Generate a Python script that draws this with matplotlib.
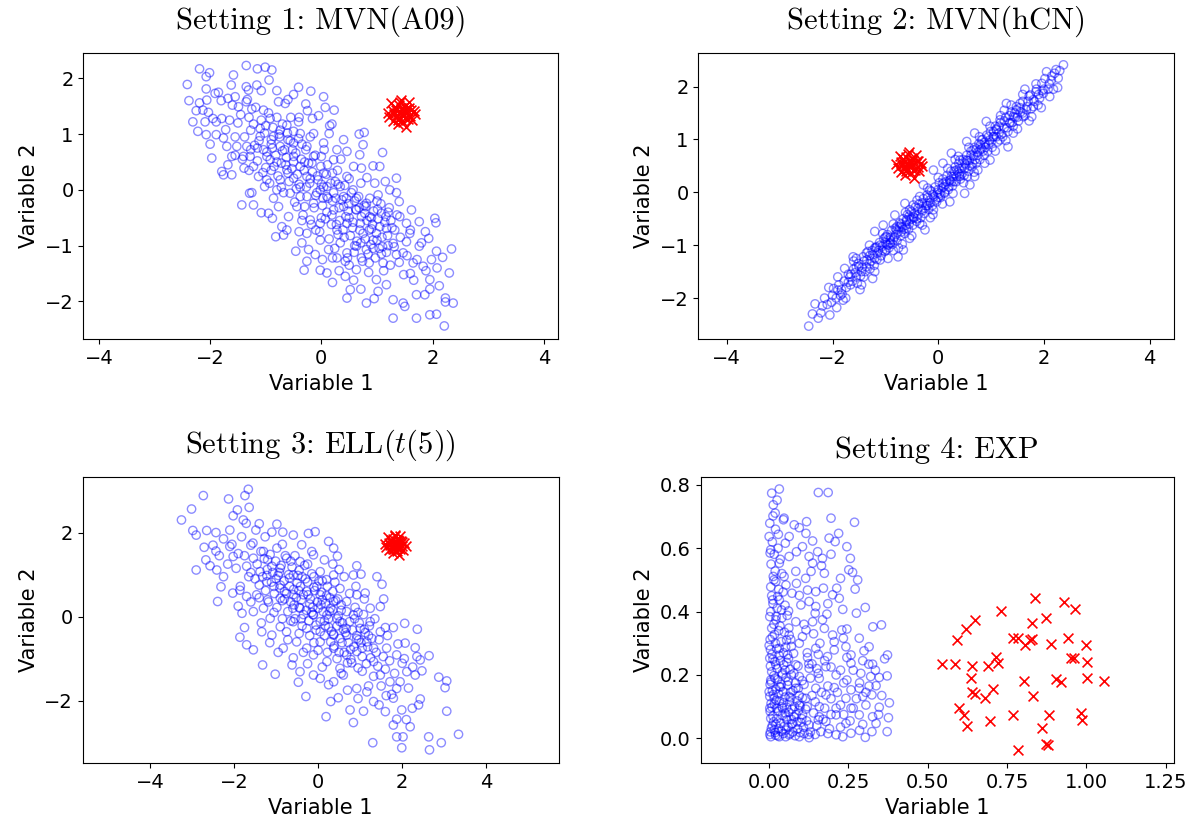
import numpy as np
import matplotlib
matplotlib.use("Agg")
from matplotlib import pyplot as plt

plt.rcParams['mathtext.fontset'] = 'cm'

# ---- Setting 1: MVN(A09) ----
s1_inliers = np.array([
    (-2.19, 2.17), (-2.41, 1.89), (-2.38, 1.60), (-2.31, 1.22), (-2.22, 1.05), (-2.07, 0.99),
    (-2.01, 2.10), (-2.07, 2.03), (-2.07, 1.81), (-1.91, 1.73), (-2.06, 1.61), (-2.19, 1.56),
    (-2.13, 1.43), (-2.03, 1.39), (-2.09, 1.22), (-1.89, 1.22), (-1.89, 0.99), (-1.97, 0.57),
    (-1.79, 0.33), (-1.76, 0.27), (-1.61, 0.27), (-1.58, 2.06), (-1.62, 1.88), (-1.68, 1.64),
    (-1.55, 1.67), (-1.35, 2.23), (-1.15, 2.17), (-1.01, 2.20), (-0.89, 2.15), (-0.94, 1.97),
    (-1.16, 1.88), (-1.08, 1.78), (-1.31, 1.79), (-1.35, 1.58), (-1.49, 1.49), (-1.65, 1.25),
    (-1.79, 1.28), (-1.76, 0.93), (-1.70, 0.78), (-1.61, 0.60), (-1.52, 0.78), (-1.40, 0.60),
    (-1.39, 0.39), (-1.43, -0.27), (-1.22, -0.27), (-1.29, -0.06), (-1.08, -0.41), (-0.88, -0.51),
    (-0.82, -0.84), (-0.68, -0.81), (-0.71, -0.66), (-0.46, -1.10), (-0.31, -1.44), (-0.26, -1.28),
    (-0.02, -1.44), (0.10, -1.49), (0.20, -1.66), (0.43, -1.28), (0.43, -1.55), (0.46, -1.94),
    (0.52, -1.79), (0.71, -1.78), (0.81, -2.03), (0.99, -1.61), (1.02, -1.82), (1.17, -1.70),
    (1.29, -2.30), (1.29, -1.97), (1.47, -2.03), (1.50, -2.09), (1.71, -2.30), (1.71, -1.88),
    (1.86, -1.88), (1.95, -2.24), (2.07, -2.23), (2.21, -2.44), (2.23, -1.94), (2.23, -2.01),
    (2.37, -2.03), (2.30, -1.49), (2.34, -1.06), (2.18, -1.21), (2.07, -1.10), (2.08, -1.40),
    (1.95, -1.61), (1.95, -1.78), (1.83, -1.37), (1.93, -0.87), (1.87, -0.75), (2.04, -0.51),
    (2.06, -0.59), (1.76, -0.57), (1.62, -0.36), (1.76, -1.01), (1.65, -1.31), (1.53, -0.93),
    (1.47, -1.13), (1.35, 0.21), (1.35, -0.05), (1.40, -0.21), (1.23, 0.00), (1.10, 0.67),
    (1.05, 0.42), (0.93, 0.43), (0.77, 1.03), (0.68, 1.00), (0.75, 0.81), (0.23, 1.43),
    (0.07, 1.48), (0.04, 1.67), (-0.19, 1.77), (-0.41, 1.84), (-0.50, 1.71), (-0.28, 1.54),
    (-0.05, 1.33), (-0.16, 1.28), (0.19, 1.18), (0.14, 1.01), (0.40, 0.90), (0.46, 0.69),
    (0.69, 0.63), (0.72, 0.39), (0.71, 0.12), (0.96, 0.12), (1.02, -0.09), (1.08, -0.42),
    (1.17, -0.69), (1.32, -0.72), (1.29, -0.96), (1.35, -1.16), (1.11, -1.31), (0.86, -1.31),
    (0.72, -1.22), (0.63, -1.43), (0.46, -1.13), (0.28, -1.22), (0.13, -1.07), (-0.11, -1.16),
    (-0.23, -1.07), (-0.40, -0.75), (-0.59, -0.48), (-0.77, -0.30), (-0.86, -0.15), (-1.02, 0.06),
    (-1.13, 0.24), (-1.22, 0.42), (-1.28, 0.60), (-1.34, 0.78), (-1.27, 1.07), (-1.10, 0.96),
    (-1.04, 1.43), (-0.92, 1.28), (-0.77, 1.58), (-0.65, 1.55), (-0.62, 1.16), (-0.41, 1.22),
    (-0.74, 0.78), (-0.92, 0.54), (-1.04, 0.72), (-0.50, 0.84), (-0.26, 0.78), (-0.14, 0.60),
    (-0.38, 0.42), (-0.62, 0.36), (-0.74, 0.18), (-0.50, 0.21), (-0.26, 0.24), (0.04, 0.30),
    (0.22, 0.54), (-0.02, 0.00), (0.10, -0.12), (-0.14, -0.24), (-0.38, -0.12), (-0.56, -0.06),
    (0.22, -0.36), (0.40, -0.12), (0.57, 0.00), (0.46, 0.24), (0.63, -0.36), (0.81, -0.24),
    (0.87, -0.48), (0.46, -0.60), (0.28, -0.72), (-0.02, -0.60), (-0.20, -0.54), (-0.26, -0.78),
    (-0.02, -0.90), (0.75, -0.78), (0.93, -0.90), (1.05, -0.66), (0.63, -1.01), (0.81, -1.07),
    (1.53, -0.60), (1.41, -0.48), (1.59, -0.78), (-0.86, 0.96), (-0.98, 0.60), (-0.74, 1.07),
    (-0.38, 1.01), (-0.14, 1.01), (0.04, 0.84), (0.28, 0.72), (-0.50, 0.60), (-0.80, 0.00),
    (-0.98, 0.18), (-0.44, -0.30), (0.10, 0.06), (0.34, 0.06),
    (-0.90, 0.90), (-0.70, 0.70), (-0.50, 0.50), (-0.30, 0.50), (-0.60, 0.90), (-0.20, 0.20),
    (0.00, 0.10), (0.20, -0.20), (0.40, -0.30), (0.50, -0.50), (0.70, -0.60), (0.90, -0.70),
    (0.30, 0.10), (0.10, -0.40), (-0.10, -0.10), (-0.40, 0.10), (-0.80, 0.50), (-1.10, 1.10),
    (-1.30, 1.30), (-1.50, 1.20), (-0.60, 0.30), (0.20, 0.30), (0.60, -0.20), (0.80, -0.30),
    (1.00, -0.90), (1.20, -1.00), (1.20, -0.40), (0.60, -1.00), (0.30, -0.80), (0.00, -0.50),
    (-0.30, -0.30), (-1.00, 0.40), (-1.20, 0.80), (-0.40, 1.30), (0.00, 0.60), (0.50, 0.20),
    (1.00, -0.20), (1.40, -1.30), (1.60, -1.50), (-1.80, 1.60),
    (-1.45, 1.35), (-1.38, 0.95), (-1.33, 1.62), (-1.27, 0.72), (-1.22, 1.18), (-1.18, 1.48),
    (-1.15, 0.52), (-1.12, 0.88), (-1.08, 1.25), (-1.05, 0.31), (-1.02, 1.02), (-0.98, 0.68),
    (-0.95, 1.38), (-0.93, 0.12), (-0.90, 0.82), (-0.87, 1.12), (-0.85, 0.42), (-0.82, 0.62),
    (-0.80, 1.30), (-0.78, 0.25), (-0.75, 0.95), (-0.72, 0.48), (-0.70, 1.18), (-0.68, -0.05),
    (-0.66, 0.72), (-0.63, 0.58), (-0.61, 1.02), (-0.58, 0.15), (-0.56, 0.88), (-0.53, 0.38),
    (-0.50, 1.05), (-0.48, -0.22), (-0.46, 0.66), (-0.43, 0.28), (-0.41, 0.92), (-0.38, 0.05),
    (-0.36, 0.55), (-0.33, -0.45), (-0.31, 0.35), (-0.28, 0.72), (-0.26, -0.12), (-0.23, 0.48),
    (-0.21, 0.12), (-0.18, -0.62), (-0.16, 0.32), (-0.13, -0.32), (-0.11, 0.62), (-0.08, -0.05),
    (-0.06, 0.18), (-0.03, -0.75), (-0.01, 0.42), (0.02, -0.28), (0.04, 0.05), (0.07, -0.52),
    (0.09, 0.28), (0.12, -0.15), (0.14, -0.88), (0.17, 0.12), (0.19, -0.45), (0.22, -0.05),
    (0.24, -1.05), (0.27, -0.62), (0.29, 0.35), (0.32, -0.32), (0.34, -0.95), (0.37, -0.18),
    (0.39, -0.72), (0.42, 0.08), (0.44, -0.48), (0.47, -1.22), (0.49, -0.25), (0.52, -0.82),
    (0.54, -0.05), (0.57, -0.58), (0.59, -1.12), (0.62, -0.35), (0.64, -0.92), (0.67, -0.12),
    (0.69, -0.72), (0.72, -0.48), (0.74, -1.28), (0.77, -0.28), (0.79, -0.88), (0.82, -0.55),
    (0.84, -1.15), (0.87, -0.15), (0.89, -0.98), (0.92, -0.62), (0.94, -0.38), (0.97, -1.22),
    (0.99, -0.78), (1.02, -0.52), (1.04, -1.05), (1.07, -0.25), (1.09, -0.85), (1.12, -1.45),
    (1.14, -0.58), (1.17, -1.12), (1.19, -0.82), (1.22, -0.32), (1.24, -1.35), (1.27, -0.68),
    (1.31, -1.02), (1.36, -0.45), (1.42, -0.85), (1.48, -1.52), (1.54, -1.18), (1.60, -0.72),
    (1.66, -1.62), (1.72, -1.25), (1.80, -0.95), (1.88, -1.45), (1.98, -1.25), (2.12, -1.72),
    (-1.60, 1.52), (-1.72, 1.08), (-1.85, 1.75), (-1.95, 1.28), (-2.25, 1.42), (-1.55, 0.95),
    (-1.42, 0.55), (-1.68, 0.45), (-2.00, 0.82), (-1.25, -0.05), (-0.95, -0.42), (-0.62, -0.72),
    (-0.35, -0.95), (0.02, -1.25), (0.32, -1.45), (0.58, -1.62), (0.95, -1.95), (0.15, 1.15),
    (0.35, 0.55), (0.58, 0.42), (0.82, 0.22), (1.15, 0.15), (-0.25, 1.42), (-0.60, 1.62),
    (-1.00, 1.15), (-0.88, 0.75), (-0.76, 1.00), (-0.64, 0.45), (-0.52, 0.72), (-0.45, 0.02),
    (-0.35, 0.82), (-0.27, 0.05), (-0.17, 0.48), (-0.07, 0.25), (0.03, -0.15), (0.11, 0.45),
    (0.18, -0.62), (0.26, -0.15), (0.33, -0.55), (0.41, -0.85), (0.48, -0.38), (0.56, -0.68),
    (0.63, -0.15), (0.71, -0.95), (0.78, -0.42), (0.86, -0.72), (0.93, -1.05), (1.01, -0.35),
    (1.08, -1.15), (1.16, -0.48), (-1.15, 0.75), (-1.25, 1.45), (-0.90, 0.35), (-0.72, 0.05),
    (-0.55, 1.30), (-0.20, 0.95), (0.05, 0.72), (0.25, 0.15), (0.45, -0.15), (0.68, -0.32),
    (0.90, -0.50), (1.25, -0.55), (-0.35, -0.55), (-0.10, -0.72), (0.20, -1.22), (0.50, -1.35),
    (0.85, -1.48), (1.10, -1.02), (-1.30, 0.35), (-1.55, 0.62), (-1.35, 1.85), (-0.80, 1.78),
])
s1_outliers_x = [1.43, 1.52, 1.35, 1.60, 1.28, 1.47, 1.39, 1.55, 1.31, 1.44, 1.66, 1.22,
                 1.50, 1.37, 1.58, 1.41, 1.26, 1.63, 1.46, 1.34, 1.53, 1.40, 1.29, 1.57,
                 1.48, 1.36, 1.45, 1.19, 1.69, 1.42, 1.51, 1.33, 1.61, 1.38, 1.49]
s1_outliers_y = [1.37, 1.45, 1.30, 1.33, 1.42, 1.22, 1.52, 1.27, 1.36, 1.61, 1.41, 1.31,
                 1.50, 1.18, 1.47, 1.39, 1.55, 1.25, 1.33, 1.44, 1.12, 1.28, 1.24, 1.57,
                 1.40, 1.35, 1.46, 1.38, 1.36, 1.58, 1.29, 1.49, 1.43, 1.26, 1.34]

# ---- Setting 2: MVN(hCN) ----
s2_inliers = np.array([
    (-2.45, -2.53), (-2.33, -2.11), (-2.19, -2.15), (-2.27, -2.38), (-2.07, -1.80), (-1.92, -2.18),
    (-1.80, -2.04), (-1.83, -1.84), (-1.77, -1.44), (-1.61, -1.22), (-1.48, -1.84), (-1.41, -1.60),
    (-1.24, -1.63), (-1.20, -0.74), (-1.04, -0.62), (-0.79, -0.71), (-0.76, -1.22), (-0.98, -1.09),
    (-0.66, -1.09), (-0.82, -0.43), (-0.63, -0.21), (-0.47, -0.24), (-0.25, -0.71), (-0.54, -0.87),
    (-0.35, -0.59), (-0.28, 0.14), (-0.09, 0.42), (0.09, 0.55), (0.25, 0.74), (0.22, -0.18),
    (0.50, -0.02), (0.60, 0.14), (0.69, 0.30), (0.54, 0.96), (0.69, 1.12), (0.91, 1.34),
    (0.98, 0.61), (1.32, 0.86), (1.10, 1.18), (1.29, 1.68), (1.55, 1.68), (1.64, 1.95),
    (1.74, 1.84), (1.80, 1.62), (1.77, 1.43), (1.42, 1.12), (1.61, 1.43), (1.96, 2.06),
    (2.05, 2.28), (2.23, 2.32), (2.37, 2.41), (2.27, 2.16), (2.26, 1.98), (2.11, 1.81),
    (1.99, 1.87), (1.89, 1.65), (1.48, 1.56), (1.17, 1.37), (1.17, 0.99), (0.82, 0.99),
    (0.66, 0.80), (0.41, 0.61), (0.41, 0.30), (0.22, 0.23), (0.03, -0.02), (-0.09, -0.33),
    (-0.22, -0.21), (-0.47, -0.46), (-0.60, -0.52), (-0.98, -0.84), (-1.17, -1.03), (-1.36, -1.15),
    (-1.55, -1.41), (-1.67, -1.60), (-1.36, -1.41), (-1.10, -1.28), (-0.91, -0.97), (-0.73, -0.65),
    (-0.54, -0.33), (-0.35, -0.08), (-0.16, 0.04), (0.09, 0.17), (0.35, 0.42), (0.54, 0.61),
    (0.79, 0.80), (1.04, 1.05), (1.36, 1.31), (1.42, 1.43), (1.67, 1.56),
    (-2.00, -1.95), (-1.90, -1.85), (-1.85, -1.95), (-1.70, -1.70), (-1.65, -1.55), (-1.55, -1.60),
    (-1.50, -1.40), (-1.45, -1.50), (-1.40, -1.30), (-1.30, -1.35), (-1.30, -1.20), (-1.25, -1.10),
    (-1.20, -1.25), (-1.15, -1.15), (-1.10, -1.00), (-1.05, -1.10), (-1.00, -0.95), (-0.95, -1.00),
    (-0.90, -0.85), (-0.85, -0.90), (-0.80, -0.80), (-0.78, -0.65), (-0.70, -0.75), (-0.70, -0.60),
    (-0.65, -0.70), (-0.60, -0.55), (-0.55, -0.60), (-0.50, -0.50), (-0.45, -0.40), (-0.40, -0.50),
    (-0.38, -0.30), (-0.30, -0.35), (-0.30, -0.20), (-0.25, -0.30), (-0.20, -0.10), (-0.15, -0.20),
    (-0.10, -0.05), (-0.05, -0.15), (0.00, 0.05), (0.05, -0.05), (0.10, 0.10), (0.12, 0.00),
    (0.15, 0.20), (0.20, 0.10), (0.25, 0.30), (0.30, 0.20), (0.30, 0.40), (0.35, 0.30),
    (0.40, 0.45), (0.45, 0.35), (0.50, 0.55), (0.50, 0.45), (0.55, 0.60), (0.60, 0.50),
    (0.62, 0.70), (0.70, 0.62), (0.72, 0.82), (0.75, 0.70), (0.80, 0.90), (0.85, 0.78),
    (0.88, 0.95), (0.95, 0.90), (0.95, 1.05), (1.00, 0.95), (1.05, 1.15), (1.10, 1.05),
    (1.15, 1.25), (1.20, 1.10), (1.25, 1.35), (1.30, 1.22), (1.35, 1.45), (1.40, 1.32),
    (1.45, 1.50), (1.50, 1.42), (1.55, 1.60), (1.60, 1.50), (1.70, 1.72), (1.80, 1.75),
    (1.85, 1.90), (1.90, 1.85), (2.00, 1.95), (2.10, 2.05), (2.15, 2.20), (-0.55, -0.45),
    (-0.60, -0.68), (-0.90, -0.95), (-1.00, -0.85), (-1.20, -1.05), (0.65, 0.55), (0.25, 0.20),
    (0.00, -0.10), (-0.20, -0.25), (0.40, 0.35), (0.90, 0.85), (1.10, 1.20),
    (-2.38, -2.30), (-2.22, -2.28), (-2.15, -2.00), (-2.10, -2.12), (-2.02, -2.08), (-1.98, -1.82),
    (-1.93, -2.00), (-1.88, -1.75), (-1.82, -1.92), (-1.78, -1.68), (-1.74, -1.80), (-1.70, -1.55),
    (-1.66, -1.75), (-1.62, -1.68), (-1.60, -1.45), (-1.57, -1.52), (-1.53, -1.72), (-1.51, -1.35),
    (-1.47, -1.58), (-1.44, -1.42), (-1.42, -1.22), (-1.38, -1.50), (-1.35, -1.28), (-1.33, -1.12),
    (-1.29, -1.45), (-1.27, -1.30), (-1.24, -1.18), (-1.21, -1.38), (-1.18, -1.05), (-1.16, -1.27),
    (-1.13, -1.10), (-1.11, -0.95), (-1.08, -1.20), (-1.06, -1.02), (-1.03, -0.88), (-1.01, -1.12),
    (-0.98, -0.98), (-0.96, -0.80), (-0.93, -1.05), (-0.91, -0.90), (-0.88, -0.72), (-0.86, -0.98),
    (-0.83, -0.85), (-0.81, -0.68), (-0.78, -0.92), (-0.76, -0.75), (-0.73, -0.58), (-0.71, -0.82),
    (-0.68, -0.66), (-0.66, -0.50), (-0.63, -0.78), (-0.61, -0.62), (-0.58, -0.42), (-0.56, -0.70),
    (-0.53, -0.52), (-0.51, -0.36), (-0.48, -0.62), (-0.46, -0.48), (-0.43, -0.28), (-0.41, -0.55),
    (-0.38, -0.42), (-0.36, -0.22), (-0.33, -0.48), (-0.31, -0.32), (-0.28, -0.12), (-0.26, -0.40),
    (-0.23, -0.25), (-0.21, -0.05), (-0.18, -0.32), (-0.16, -0.15), (-0.13, 0.02), (-0.11, -0.25),
    (-0.08, -0.08), (-0.06, 0.10), (-0.03, -0.18), (-0.01, 0.00), (0.02, 0.18), (0.04, -0.10),
    (0.07, 0.08), (0.09, 0.25), (0.12, -0.02), (0.14, 0.15), (0.17, 0.32), (0.19, 0.05),
    (0.22, 0.22), (0.24, 0.40), (0.27, 0.12), (0.29, 0.30), (0.32, 0.48), (0.34, 0.20),
    (0.37, 0.38), (0.39, 0.55), (0.42, 0.25), (0.44, 0.45), (0.47, 0.62), (0.49, 0.32),
    (0.52, 0.52), (0.54, 0.70), (0.57, 0.40), (0.59, 0.60), (0.62, 0.78), (0.64, 0.48),
    (0.67, 0.68), (0.69, 0.85), (0.72, 0.55), (0.74, 0.75), (0.77, 0.92), (0.79, 0.62),
    (0.82, 0.82), (0.84, 1.00), (0.87, 0.70), (0.89, 0.90), (0.92, 1.08), (0.94, 0.78),
    (0.97, 0.98), (0.99, 1.15), (1.02, 0.85), (1.05, 1.05), (1.08, 1.25), (1.12, 0.95),
    (1.15, 1.12), (1.18, 1.32), (1.22, 1.05), (1.25, 1.22), (1.28, 1.42), (1.32, 1.15),
    (1.35, 1.32), (1.38, 1.52), (1.42, 1.25), (1.45, 1.42), (1.48, 1.62), (1.52, 1.35),
    (1.56, 1.52), (1.60, 1.72), (1.64, 1.45), (1.68, 1.62), (1.72, 1.82), (1.76, 1.58),
    (1.82, 1.72), (1.86, 1.95), (1.92, 1.78), (1.97, 1.92), (2.02, 2.15), (2.08, 1.95),
    (2.14, 2.12), (2.20, 2.25), (2.30, 2.30),
    (-1.90, -1.60), (-1.75, -2.00), (-1.60, -1.30), (-1.45, -1.75), (-1.30, -1.00), (-1.20, -1.50),
    (-1.05, -0.78), (-0.95, -1.25), (-0.85, -0.60), (-0.75, -1.05), (-0.62, -0.38), (-0.50, -0.82),
    (-0.40, -0.15), (-0.30, -0.62), (-0.20, 0.08), (-0.10, -0.42), (0.00, 0.28), (0.08, -0.22),
    (0.18, 0.45), (0.28, -0.02), (0.38, 0.68), (0.48, 0.18), (0.58, 0.85), (0.68, 0.38),
    (0.78, 1.05), (0.88, 0.55), (0.98, 1.25), (1.08, 0.78), (1.18, 1.45), (1.28, 0.98),
    (1.38, 1.65), (1.50, 1.20), (1.60, 1.85), (1.72, 1.35), (1.85, 2.05), (1.95, 1.60),
    (2.18, 1.95), (-2.05, -2.32), (-1.55, -1.25), (-0.68, -0.98), (0.32, 0.62), (0.75, 0.42),
    (1.25, 1.55), (-0.15, -0.48), (0.55, 0.30), (-0.85, -1.10),
])
s2_outliers_x = [-0.56, -0.47, -0.64, -0.39, -0.71, -0.52, -0.60, -0.44, -0.68, -0.55, -0.33, -0.77,
                 -0.49, -0.62, -0.41, -0.58, -0.73, -0.36, -0.53, -0.65, -0.46, -0.59, -0.70, -0.42,
                 -0.51, -0.63, -0.54, -0.80, -0.31, -0.57, -0.48, -0.66, -0.38, -0.61, -0.50]
s2_outliers_y = [0.52, 0.61, 0.45, 0.48, 0.57, 0.37, 0.66, 0.42, 0.51, 0.76, 0.55, 0.46,
                 0.64, 0.33, 0.60, 0.54, 0.69, 0.40, 0.47, 0.58, 0.27, 0.44, 0.39, 0.71,
                 0.56, 0.50, 0.62, 0.53, 0.49, 0.73, 0.43, 0.63, 0.59, 0.41, 0.49]

# ---- Setting 3: ELL(t(5)) ----
s3_inliers = np.array([
    (-3.25, 2.30), (-3.01, 2.56), (-2.73, 2.88), (-2.98, 2.05), (-2.90, 1.94), (-2.65, 2.05),
    (-2.43, 2.00), (-2.71, 1.65), (-2.43, 1.56), (-2.67, 1.35), (-2.57, 1.21), (-2.90, 1.11),
    (-2.41, 1.11), (-2.25, 0.95), (-2.31, 0.71), (-2.39, 0.36), (-2.13, 2.80), (-2.02, 2.40),
    (-1.92, 2.54), (-1.74, 2.88), (-1.66, 3.03), (-1.64, 2.60), (-1.78, 2.30), (-1.71, 2.22),
    (-1.82, 1.90), (-2.10, 2.06), (-2.10, 1.67), (-2.02, 1.43), (-1.48, 2.06), (-1.40, 2.21),
    (-1.26, 1.90), (-1.10, 2.01), (-0.98, 2.20), (-0.84, 2.01), (-0.59, 1.94), (-0.23, 1.98),
    (-0.07, 2.02), (-0.39, 1.71), (0.25, 1.79), (0.37, 1.63), (0.46, 1.44), (0.92, 1.21),
    (1.02, 1.01), (0.84, 0.99), (1.40, 0.95), (1.52, 0.77), (1.56, 0.42), (1.12, 0.56),
    (0.92, 0.52), (1.24, 0.20), (1.48, 0.24), (2.06, -0.16), (2.36, -0.30), (1.79, -0.26),
    (1.60, -0.26), (2.07, -0.63), (2.31, -0.74), (2.64, -0.93), (2.43, -1.03), (2.47, -1.29),
    (2.31, -1.39), (2.11, -1.31), (2.00, -1.11), (2.87, -1.44), (3.06, -1.53), (3.02, -1.69),
    (3.06, -2.25), (2.43, -1.96), (2.39, -2.10), (2.24, -2.18), (3.34, -2.80), (2.93, -3.00),
    (2.65, -3.17), (2.63, -2.86), (2.19, -2.62), (1.99, -3.12), (2.02, -2.86), (1.87, -2.86),
    (1.79, -2.58), (1.87, -2.44), (1.99, -2.22), (1.79, -1.94), (1.60, -2.26), (1.30, -3.00),
    (1.08, -2.25), (0.84, -2.52), (0.76, -2.22), (0.48, -1.93), (0.30, -2.02), (0.19, -2.38),
    (-0.29, -1.90), (-0.47, -1.56), (-0.59, -0.98), (-1.02, -1.37), (-1.32, -1.15), (-1.54, -0.79),
    (-1.70, -0.67), (-1.86, -0.49), (-1.75, -0.26), (-1.81, 0.08), (-2.03, 0.56), (-1.86, 0.63),
    (-1.70, 0.48), (-1.54, 0.12), (-1.34, -0.36), (-1.10, -0.44), (-0.90, -0.24), (-0.83, -0.75),
    (-0.43, -1.31), (-0.11, -1.39), (0.05, -1.47), (0.37, -1.55), (0.60, -1.39), (0.92, -1.71),
    (1.16, -1.79), (1.32, -2.02), (1.48, -1.39), (1.71, -1.55), (1.87, -1.71), (1.32, -1.07),
    (1.63, -0.75), (1.87, -0.91), (1.16, -0.60), (0.92, -0.52), (0.68, -0.91), (0.52, -1.23),
    (0.21, -1.07), (-0.11, -0.91), (-0.27, -0.75), (-0.51, -0.60), (-0.75, -0.36), (-1.14, -0.04),
    (-1.30, 0.20), (-1.46, 0.52), (-1.22, 0.83), (-1.38, 1.07), (-1.54, 1.39), (-1.30, 1.55),
    (-0.98, 1.63), (-0.75, 1.39), (-0.90, 1.15), (-0.59, 0.99), (-0.43, 1.31), (-0.11, 1.47),
    (0.05, 1.07), (0.37, 0.99), (0.52, 0.67), (0.68, 0.36), (0.37, 0.36), (0.05, 0.52),
    (-0.27, 0.60), (-0.59, 0.52), (-0.90, 0.44), (-0.90, 0.75), (-0.43, 0.20), (-0.11, 0.04),
    (0.21, 0.04), (0.52, -0.12), (0.84, 0.04), (1.00, -0.28), (0.68, -0.44), (0.37, -0.44),
    (0.05, -0.36), (-0.27, -0.28), (-0.59, -0.12), (0.05, -0.60), (0.37, -0.75), (0.92, -0.83),
    (1.32, -0.75), (1.48, -0.36), (1.24, -0.12),
    (-0.20, 0.30), (0.00, 0.20), (0.10, 0.40), (-0.10, 0.70), (0.20, 0.50), (-0.40, 0.40),
    (-0.50, 0.80), (-0.30, 0.90), (0.30, 0.20), (0.15, -0.10), (-0.05, -0.20), (0.25, -0.25),
    (0.45, -0.05), (-0.15, 0.10), (-0.60, 0.20), (-0.80, 0.60), (-1.00, 0.90), (-0.70, 1.00),
    (-1.10, 1.20), (-0.45, 1.10), (0.10, 0.85), (0.35, 0.60), (0.55, 0.15), (0.60, -0.30),
    (0.30, -0.60), (-0.20, -0.45), (-0.40, -0.05), (-0.65, -0.10), (0.00, -0.80), (0.45, -1.00),
    (0.80, -1.10), (1.05, -1.30), (1.10, -0.30), (0.95, 0.10), (-1.20, 0.40), (-1.50, 0.90),
    (-1.70, 1.20), (-1.90, 1.50), (-1.60, 1.70), (-1.20, 1.35),
    (-1.45, 1.25), (-1.40, 0.75), (-1.36, 1.55), (-1.32, 0.95), (-1.28, 1.38), (-1.25, 0.62),
    (-1.21, 1.12), (-1.18, 0.35), (-1.14, 1.48), (-1.11, 0.82), (-1.08, 1.05), (-1.04, 0.55),
    (-1.01, 1.32), (-0.98, 0.22), (-0.95, 0.98), (-0.91, 0.68), (-0.88, 1.22), (-0.85, 0.38),
    (-0.81, 0.85), (-0.78, 1.45), (-0.75, 0.55), (-0.72, 0.12), (-0.68, 0.92), (-0.65, 0.35),
    (-0.62, 1.18), (-0.58, 0.65), (-0.55, -0.05), (-0.52, 0.45), (-0.48, 0.98), (-0.45, 0.22),
    (-0.42, 0.72), (-0.38, -0.22), (-0.35, 0.52), (-0.32, 1.22), (-0.28, 0.15), (-0.25, 0.82),
    (-0.22, -0.10), (-0.18, 0.42), (-0.15, 1.02), (-0.12, 0.05), (-0.08, 0.62), (-0.05, -0.32),
    (-0.02, 0.35), (0.02, 0.85), (0.05, -0.12), (0.08, 0.58), (0.12, 0.12), (0.15, -0.45),
    (0.18, 0.32), (0.22, 0.72), (0.25, -0.05), (0.28, 0.45), (0.32, -0.35), (0.35, 0.15),
    (0.38, -0.70), (0.42, 0.38), (0.45, -0.22), (0.48, 0.02), (0.52, -0.52), (0.55, 0.28),
    (0.58, -0.15), (0.62, -0.85), (0.65, -0.38), (0.68, 0.12), (0.72, -0.62), (0.75, -0.12),
    (0.78, -1.02), (0.82, -0.32), (0.85, -0.72), (0.88, 0.22), (0.92, -0.45), (0.95, -1.22),
    (0.98, -0.15), (1.02, -0.62), (1.05, -0.95), (1.08, 0.05), (1.12, -0.38), (1.15, -1.12),
    (1.18, -0.72), (1.22, -0.22), (1.25, -0.98), (1.28, -0.52), (1.32, -1.42), (1.35, -0.05),
    (1.38, -0.85), (1.42, -1.18), (1.45, -0.55), (1.50, -1.65), (1.55, -0.95), (1.60, -1.25),
    (1.65, -0.45), (1.70, -1.05), (1.75, -1.85), (1.82, -1.35), (1.90, -0.65), (1.95, -1.55),
    (2.05, -1.00), (2.15, -1.70), (2.25, -1.20), (2.35, -0.95),
    (-1.55, 1.75), (-1.65, 0.95), (-1.75, 1.45), (-1.85, 0.72), (-1.95, 1.15), (-2.05, 1.72),
    (-2.15, 1.25), (-2.25, 1.85), (-2.35, 1.45), (-2.50, 1.70), (-1.60, 0.35), (-1.90, 0.25),
    (-1.35, -0.15), (-1.15, -0.62), (-0.95, -0.85), (-0.72, -0.55), (-0.62, -1.15), (-0.35, -0.85),
    (-0.25, -1.12), (0.10, -1.20), (0.25, -1.62), (0.55, -1.35), (0.70, -1.75), (0.35, 1.25),
    (0.62, 0.95), (0.75, 0.55), (-0.15, 1.55), (0.15, 1.35), (-0.55, 1.45), (-0.85, 1.72),
    (0.50, 1.12), (0.90, 0.72), (1.10, 0.42), (1.20, -1.65), (0.95, -1.95), (1.45, -2.10),
    (1.62, -1.88), (2.10, -2.45),
    (-0.92, 1.05), (-0.80, 0.42), (-0.68, 0.72), (-0.57, 0.28), (-0.46, 0.62), (-0.35, 0.05),
    (-0.24, 0.52), (-0.13, 0.22), (-0.03, 0.72), (0.07, 0.28), (0.17, -0.22), (0.27, 0.12),
    (0.37, -0.42), (0.47, 0.42), (0.57, -0.62), (0.67, -0.28), (0.77, -0.78), (0.87, -0.05),
    (0.97, -0.55), (-1.05, 0.72), (-1.22, 0.98), (-0.65, 1.32), (-0.38, 0.95), (-0.10, 0.95),
    (0.20, 0.88), (0.40, 0.82), (0.50, -0.85), (0.22, -0.85), (-0.10, -0.62), (-0.45, -0.40),
    (-0.85, -0.05), (-1.05, 0.10), (1.20, -0.45), (1.05, -0.75), (0.70, -1.10), (-1.40, 0.45),
    (-1.60, 1.05), (-0.25, 1.25),
])
s3_outliers_x = [1.83, 1.92, 1.75, 1.99, 1.68, 1.87, 1.79, 1.95, 1.71, 1.84, 2.05, 1.62,
                 1.90, 1.77, 1.97, 1.81, 1.66, 2.02, 1.86, 1.74, 1.93, 1.80, 1.69, 1.96,
                 1.88, 1.76, 1.85, 1.59, 2.08, 1.82, 1.91, 1.73, 2.00, 1.78, 1.89]
s3_outliers_y = [1.71, 1.80, 1.64, 1.67, 1.76, 1.56, 1.85, 1.61, 1.70, 1.95, 1.75, 1.65,
                 1.83, 1.52, 1.80, 1.73, 1.89, 1.59, 1.66, 1.78, 1.46, 1.62, 1.58, 1.91,
                 1.74, 1.69, 1.81, 1.72, 1.68, 1.92, 1.63, 1.83, 1.77, 1.60, 1.68]

# ---- Setting 4: EXP ----
s4_inliers = np.array([
    (0.032, 0.787), (0.008, 0.774), (0.155, 0.776), (0.186, 0.776), (0.013, 0.737), (0.019, 0.711),
    (0.047, 0.695), (0.002, 0.679), (0.079, 0.674), (0.095, 0.665), (0.118, 0.684), (0.269, 0.682),
    (0.000, 0.637), (0.029, 0.644), (0.063, 0.637), (0.116, 0.647), (0.137, 0.623), (0.189, 0.632),
    (0.219, 0.647), (0.208, 0.621), (0.051, 0.616), (0.005, 0.595), (0.016, 0.581), (0.063, 0.574),
    (0.086, 0.589), (0.126, 0.574), (0.153, 0.589), (0.168, 0.568), (0.195, 0.581), (0.256, 0.568),
    (0.032, 0.553), (0.137, 0.553), (0.132, 0.527), (0.084, 0.527), (0.174, 0.521), (0.251, 0.532),
    (0.263, 0.524), (0.013, 0.511), (0.047, 0.511), (0.279, 0.500), (0.021, 0.495), (0.086, 0.489),
    (0.053, 0.484), (0.147, 0.463), (0.171, 0.474), (0.213, 0.474), (0.271, 0.471), (0.121, 0.468),
    (0.011, 0.437), (0.032, 0.437), (0.072, 0.458), (0.095, 0.451), (0.126, 0.432), (0.200, 0.453),
    (0.221, 0.442), (0.303, 0.413), (0.232, 0.407), (0.182, 0.392), (0.147, 0.416), (0.100, 0.421),
    (0.061, 0.402), (0.002, 0.384), (0.021, 0.374), (0.084, 0.368), (0.116, 0.342), (0.137, 0.368),
    (0.168, 0.374), (0.174, 0.347), (0.354, 0.358), (0.327, 0.352), (0.229, 0.342), (0.284, 0.316),
    (0.234, 0.316), (0.200, 0.326), (0.105, 0.321), (0.063, 0.326), (0.000, 0.293), (0.032, 0.284),
    (0.095, 0.300), (0.147, 0.284), (0.205, 0.279), (0.242, 0.289), (0.299, 0.276), (0.315, 0.289),
    (0.373, 0.263), (0.364, 0.251), (0.258, 0.263), (0.184, 0.258), (0.121, 0.255), (0.058, 0.263),
    (0.002, 0.253), (0.314, 0.234), (0.326, 0.234), (0.258, 0.237), (0.179, 0.226), (0.126, 0.221),
    (0.084, 0.232), (0.021, 0.232), (0.372, 0.197), (0.347, 0.192), (0.320, 0.195), (0.289, 0.205),
    (0.245, 0.184), (0.211, 0.200), (0.158, 0.189), (0.095, 0.195), (0.042, 0.200), (0.005, 0.184),
    (0.337, 0.166), (0.284, 0.158), (0.205, 0.160), (0.258, 0.153), (0.147, 0.158), (0.084, 0.158),
    (0.032, 0.163), (0.000, 0.147), (0.324, 0.137), (0.295, 0.132), (0.242, 0.126), (0.179, 0.137),
    (0.116, 0.126), (0.063, 0.132), (0.016, 0.126), (0.379, 0.112), (0.347, 0.098), (0.305, 0.105),
    (0.258, 0.095), (0.211, 0.095), (0.158, 0.100), (0.095, 0.105), (0.042, 0.095), (0.002, 0.095),
    (0.376, 0.065), (0.326, 0.068), (0.284, 0.074), (0.211, 0.074), (0.158, 0.068), (0.105, 0.074),
    (0.053, 0.068), (0.005, 0.063), (0.337, 0.047), (0.295, 0.044), (0.242, 0.047), (0.179, 0.053),
    (0.126, 0.042), (0.074, 0.047), (0.021, 0.044), (0.372, 0.021), (0.324, 0.021), (0.303, 0.003),
    (0.258, 0.016), (0.232, 0.005), (0.211, 0.011), (0.163, 0.021), (0.126, 0.002), (0.095, 0.005),
    (0.063, 0.011), (0.032, 0.005), (0.005, 0.005), (0.016, 0.026), (0.053, 0.026),
    (0.004, 0.020), (0.010, 0.040), (0.020, 0.010), (0.030, 0.030), (0.045, 0.015), (0.060, 0.035),
    (0.075, 0.020), (0.090, 0.030), (0.110, 0.015), (0.012, 0.070), (0.028, 0.085), (0.050, 0.080),
    (0.070, 0.060), (0.085, 0.075), (0.100, 0.050), (0.006, 0.110), (0.022, 0.120), (0.040, 0.100),
    (0.065, 0.115), (0.080, 0.100), (0.010, 0.150), (0.030, 0.140), (0.050, 0.130), (0.075, 0.150),
    (0.095, 0.135), (0.003, 0.170), (0.018, 0.190), (0.038, 0.170), (0.060, 0.180), (0.110, 0.170),
    (0.008, 0.210), (0.025, 0.220), (0.050, 0.215), (0.070, 0.200), (0.012, 0.250), (0.035, 0.245),
    (0.055, 0.240), (0.004, 0.280), (0.020, 0.300), (0.045, 0.270), (0.070, 0.290), (0.010, 0.320),
    (0.030, 0.340), (0.055, 0.310), (0.015, 0.360), (0.040, 0.380), (0.005, 0.400), (0.025, 0.410),
    (0.050, 0.420), (0.008, 0.450), (0.030, 0.470), (0.015, 0.500), (0.040, 0.520), (0.006, 0.550),
    (0.028, 0.600), (0.010, 0.620), (0.020, 0.660), (0.045, 0.690), (0.130, 0.020), (0.150, 0.040),
    (0.140, 0.080), (0.120, 0.100), (0.170, 0.060), (0.190, 0.030), (0.130, 0.190), (0.150, 0.220),
    (0.120, 0.270), (0.160, 0.300), (0.110, 0.360), (0.140, 0.330),
    (0.002, 0.012), (0.007, 0.032), (0.014, 0.052), (0.019, 0.018), (0.024, 0.062), (0.027, 0.008),
    (0.035, 0.048), (0.038, 0.022), (0.042, 0.072), (0.048, 0.038), (0.052, 0.005), (0.056, 0.058),
    (0.062, 0.082), (0.066, 0.015), (0.071, 0.045), (0.078, 0.068), (0.082, 0.008), (0.088, 0.052),
    (0.093, 0.088), (0.097, 0.018), (0.103, 0.062), (0.108, 0.035), (0.115, 0.092), (0.118, 0.055),
    (0.124, 0.012), (0.003, 0.085), (0.009, 0.098), (0.016, 0.108), (0.023, 0.095), (0.033, 0.118),
    (0.045, 0.112), (0.055, 0.098), (0.068, 0.128), (0.072, 0.092), (0.088, 0.118), (0.098, 0.102),
    (0.105, 0.128), (0.002, 0.132), (0.013, 0.138), (0.021, 0.155), (0.036, 0.162), (0.044, 0.148),
    (0.058, 0.168), (0.067, 0.145), (0.083, 0.175), (0.092, 0.158), (0.104, 0.182), (0.006, 0.178),
    (0.015, 0.198), (0.026, 0.185), (0.041, 0.205), (0.053, 0.192), (0.066, 0.218), (0.078, 0.205),
    (0.091, 0.228), (0.004, 0.228), (0.018, 0.242), (0.031, 0.262), (0.046, 0.232), (0.061, 0.252),
    (0.077, 0.268), (0.009, 0.265), (0.024, 0.282), (0.038, 0.305), (0.052, 0.288), (0.068, 0.312),
    (0.003, 0.312), (0.017, 0.328), (0.034, 0.355), (0.048, 0.335), (0.062, 0.348), (0.008, 0.348),
    (0.022, 0.385), (0.039, 0.405), (0.057, 0.388), (0.012, 0.425), (0.027, 0.448), (0.044, 0.462),
    (0.005, 0.478), (0.019, 0.528), (0.035, 0.565), (0.003, 0.585), (0.012, 0.702), (0.025, 0.752),
    (0.135, 0.135), (0.145, 0.115), (0.165, 0.145), (0.175, 0.095), (0.185, 0.165), (0.195, 0.125),
    (0.215, 0.145), (0.225, 0.105), (0.235, 0.175), (0.155, 0.205), (0.175, 0.245), (0.125, 0.235),
    (0.195, 0.225), (0.225, 0.215), (0.155, 0.265), (0.205, 0.305), (0.145, 0.395), (0.185, 0.425),
    (0.115, 0.505), (0.165, 0.545), (0.105, 0.605), (0.135, 0.235), (0.265, 0.215), (0.285, 0.175),
    (0.305, 0.145), (0.275, 0.125), (0.355, 0.135), (0.255, 0.055), (0.285, 0.025), (0.345, 0.075),
    (0.225, 0.035), (0.185, 0.015), (0.155, 0.058), (0.145, 0.012), (0.195, 0.075), (0.235, 0.075),
    (0.265, 0.095), (0.315, 0.165), (0.245, 0.255), (0.295, 0.245), (0.335, 0.215), (0.245, 0.345),
    (0.275, 0.395), (0.225, 0.505), (0.195, 0.695), (0.245, 0.605),
])
s4_outliers_x = [0.545, 0.587, 0.592, 0.619, 0.648, 0.640, 0.637, 0.640, 0.648, 0.679,
                 0.689, 0.714, 0.721, 0.705, 0.598, 0.613, 0.624, 0.695, 0.732, 0.768,
                 0.770, 0.784, 0.808, 0.821, 0.828, 0.829, 0.838, 0.872, 0.802, 0.832,
                 0.784, 0.861, 0.879, 0.874, 0.882, 0.889, 0.905, 0.919, 0.929, 0.942,
                 0.953, 0.960, 0.965, 0.984, 0.986, 0.998, 1.003, 1.003, 1.056]
s4_outliers_y = [0.234, 0.234, 0.311, 0.344, 0.374, 0.229, 0.189, 0.145, 0.141, 0.126,
                 0.229, 0.258, 0.239, 0.156, 0.095, 0.072, 0.040, 0.055, 0.402, 0.074,
                 0.316, 0.316, 0.295, 0.311, 0.313, 0.365, 0.442, 0.381, 0.182, 0.135,
                 -0.038, 0.032, -0.021, -0.019, 0.072, 0.298, 0.186, 0.179, 0.429, 0.316,
                 0.253, 0.253, 0.408, 0.079, 0.058, 0.295, 0.242, 0.189, 0.182]

titles = ['Setting 1: MVN(A09)',
          'Setting 2: MVN(hCN)',
          'Setting 3: ELL($t$(5))',
          'Setting 4: EXP']
title_pads = [17.5, 17.5, 17.5, 13.5]

panels = [
    (s1_inliers, s1_outliers_x, s1_outliers_y, (-4.28, 4.26), (-2.68, 2.46),
     [-4, -2, 0, 2, 4], [-2, -1, 0, 1, 2]),
    (s2_inliers, s2_outliers_x, s2_outliers_y, (-4.54, 4.46), (-2.78, 2.64),
     [-4, -2, 0, 2, 4], [-2, -1, 0, 1, 2]),
    (s3_inliers, s3_outliers_x, s3_outliers_y, (-5.60, 5.72), (-3.49, 3.33),
     [-4, -2, 0, 2, 4], [-2, 0, 2]),
    (s4_inliers, s4_outliers_x, s4_outliers_y, (-0.216, 1.276), (-0.079, 0.826),
     [0, 0.25, 0.5, 0.75, 1.0, 1.25], [0, 0.2, 0.4, 0.6, 0.8]),
]

# axes boxes in figure fractions
boxes = [
    [0.0698, 0.5872, 0.3982, 0.3487],
    [0.5853, 0.5872, 0.3987, 0.3487],
    [0.0693, 0.0714, 0.3989, 0.3487],
    [0.5873, 0.0714, 0.3967, 0.3487],
]

fig = plt.figure(figsize=(11.93, 8.22), dpi=100)

for i, (inl, ox, oy, xl, yl, xt, yt) in enumerate(panels):
    ax = fig.add_axes(boxes[i])
    ax.scatter(inl[:, 0], inl[:, 1], s=36, facecolors='none', edgecolors='blue',
               alpha=0.45, linewidths=1.0)
    ax.scatter(ox, oy, s=50, marker='x', color='red', linewidths=1.2)
    ax.set_xlim(xl)
    ax.set_ylim(yl)
    ax.set_xticks(xt)
    ax.set_yticks(yt)
    if i == 3:
        ax.set_xticklabels(['%.2f' % v for v in xt])
        ax.set_yticklabels(['%.1f' % v for v in yt])
    ax.tick_params(labelsize=14)
    ax.set_xlabel('Variable 1', fontsize=15)
    ax.set_ylabel('Variable 2', fontsize=15)
    ax.set_title(titles[i], fontsize=22, fontfamily='cmr10', pad=title_pads[i])

fig.savefig('out.png', dpi=100)
